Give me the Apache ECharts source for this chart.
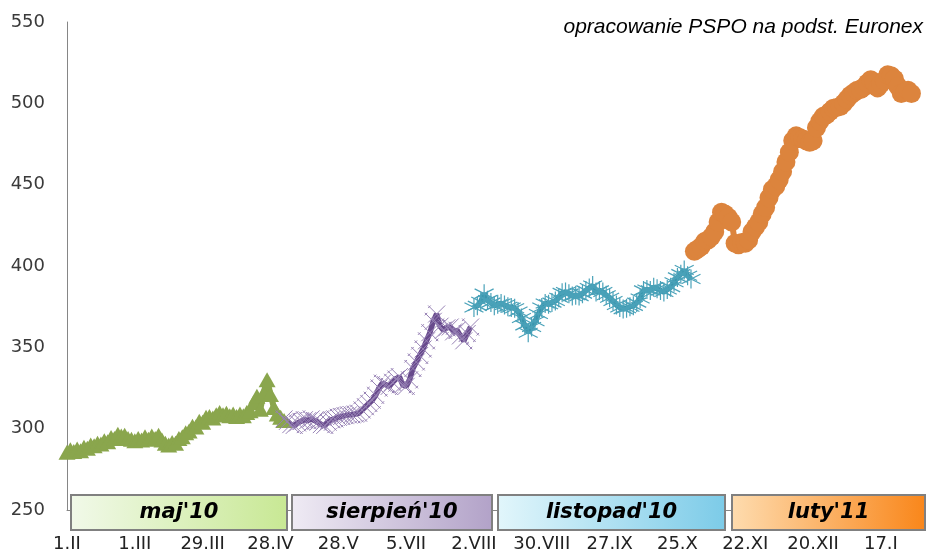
<!DOCTYPE html>
<html>
<head>
<meta charset="utf-8">
<script src="https://cdn.jsdelivr.net/npm/echarts@6/dist/echarts.min.js"></script>
<style>
  html, body { margin: 0; padding: 0; background: #ffffff; }
  #chart { width: 927px; height: 553px; }
</style>
</head>
<body>
<div id="chart"></div>
<script>
// ---- data ----
const tickLabels = ['1.II', '1.III', '29.III', '28.IV', '28.V', '5.VII', '2.VIII', '30.VIII', '27.IX', '25.X', '22.XI', '20.XII', '17.I'];
const categoryCount = 254;
const periodNames = ["maj'10", "sierpień'10", "listopad'10", "luty'11"];

const mayStart = 0;
const mayValues = [
  285.5, 287, 286, 287.5, 286.5, 288.5, 288, 290, 289.5, 291,
  290.5, 292.5, 292, 294.5, 294, 296.5, 295.5, 296, 294, 293.5,
  292.5, 294, 293, 295, 293.5, 295.5, 294, 296, 293, 291,
  290, 291.5, 291, 294, 295, 297.5, 298.5, 301.5, 301, 304.5,
  304, 307, 307.5, 306.5, 308.5, 310, 308.5, 309.5, 308, 309,
  307.5, 309, 308, 310, 311, 316, 320, 312, 322, 330,
  321, 313, 309, 307, 305
];

const augStart = 64;
const augValues = [
  306, 304.5, 302.5, 302, 303.5, 304.5, 305.5, 305, 306, 305,
  304, 302.5, 302, 304, 305.5, 306, 307, 307.5, 308, 308.5,
  308.5, 309, 309.5, 311.5, 313.5, 315.5, 317.5, 320.5, 325, 328,
  327, 326, 328.5, 330.5, 332, 327, 326, 330, 337, 341,
  345, 349, 354, 359, 366, 370.5, 363, 360.5, 362, 362.5,
  359.5, 360.5, 357, 354, 358.5, 362.5
];

const novStart = 120;
const novValues = [
  374.5, 375.5, 378, 383, 379, 377.5, 375.5, 376.5, 377, 376,
  375, 374.5, 374, 372, 368, 363.5, 359, 362.5, 366, 370.5,
  374.5, 377, 376.5, 377.5, 378.5, 380.5, 383.5, 384, 383, 381.5,
  382, 381.5, 383, 385, 386.5, 388, 384, 385, 384, 382,
  380.5, 378.5, 376, 374.5, 373.5, 374, 375, 375.5, 377.5, 380,
  385, 385.5, 385, 387, 386, 385, 384, 385.5, 387, 390,
  393, 395, 397.5, 394, 392
];

const febStart = 185;
const febValues = [
  409, 410.5, 412, 415, 416, 418, 421, 427, 433, 432,
  430, 427, 414, 413, 414.5, 414, 416, 421, 424, 427,
  432, 436, 442, 447, 449, 453, 458, 464, 470, 477,
  480, 479, 478, 477, 476, 477, 485, 489, 492, 493,
  495, 497, 497.5, 498, 500, 502.5, 505, 506.5, 508, 508.5,
  510, 512.5, 514.5, 513, 509.5, 512, 514, 517.5, 517, 515,
  510.5, 506, 507, 508, 506
];

// ---- build ----
const categories = [];
for (let i = 0; i < categoryCount; i++) categories.push(String(i));
function pairs(start, vals) { return vals.map((v, k) => [start + k, v]); }

const X_PATH = 'path://M0,0L10,10M10,0L0,10M1.5,0L0,1.5M10,8.5L8.5,10';
const STAR_PATH = 'path://M5,0L5,10M0.7,2.5L9.3,7.5M9.3,2.5L0.7,7.5';

const chart = echarts.init(document.getElementById('chart'), null, { renderer: 'canvas' });

const boxes = [
  { x: 71, w: 216, c0: '#f1f9e9', c1: '#c8e894' },
  { x: 292, w: 200, c0: '#efebf4', c1: '#b2a2c8' },
  { x: 498, w: 227, c0: '#e2f6fb', c1: '#7ccbe8' },
  { x: 732, w: 193, c0: '#fedcaf', c1: '#f9861a' }
];
const graphics = [];
boxes.forEach((b, k) => {
  graphics.push({
    type: 'rect', z: 100,
    shape: { x: b.x, y: 495, width: b.w, height: 35 },
    style: {
      fill: new echarts.graphic.LinearGradient(0, 0, 1, 0, [
        { offset: 0, color: b.c0 }, { offset: 1, color: b.c1 }
      ]),
      stroke: '#808080', lineWidth: 2
    }
  });
  graphics.push({
    type: 'text', z: 101,
    x: b.x + b.w / 2, y: 513,
    style: {
      text: periodNames[k],
      fill: '#000', align: 'center', verticalAlign: 'middle',
      font: 'italic bold 21px "DejaVu Sans"'
    }
  });
});

chart.setOption({
  animation: false,
  backgroundColor: '#ffffff',
  title: {
    text: 'opracowanie PSPO na podst. Euronex',
    right: 4, top: 17, padding: 0,
    textStyle: { fontFamily: 'Liberation Sans', fontStyle: 'italic', fontWeight: 'normal', fontSize: 21, color: '#000' }
  },
  grid: { left: 67, right: 2, top: 22, bottom: 41, containLabel: false },
  xAxis: {
    type: 'category',
    data: categories,
    boundaryGap: false,
    axisLine: { show: true, lineStyle: { color: '#868686', width: 1 } },
    axisTick: { show: false },
    splitLine: { show: false },
    axisLabel: {
      interval: 19,
      margin: 25,
      color: '#222',
      fontFamily: 'DejaVu Sans',
      fontSize: 18,
      formatter: (v, idx) => (idx % 20 === 0 ? tickLabels[idx / 20] : '')
    }
  },
  yAxis: {
    type: 'value',
    min: 250, max: 550, interval: 50,
    axisLine: { show: true, lineStyle: { color: '#868686', width: 1 } },
    axisTick: { show: false },
    splitLine: { show: false },
    axisLabel: { margin: 22, color: '#3a3a3a', fontFamily: 'DejaVu Sans', fontSize: 18 }
  },
  series: [
    {
      type: 'line', data: pairs(mayStart, mayValues),
      symbol: 'triangle', symbolSize: [17, 15], showAllSymbol: true,
      itemStyle: { color: '#8aa64d' },
      lineStyle: { color: '#8aa64d', width: 6 }
    },
    {
      type: 'line', data: pairs(augStart, augValues),
      symbol: X_PATH, symbolSize: 17, showAllSymbol: true,
      itemStyle: { color: 'rgba(0,0,0,0)', borderColor: '#9782b5', borderWidth: 1 },
      lineStyle: { color: '#684a8c', width: 5.5 }
    },
    {
      type: 'line', data: pairs(novStart, novValues),
      symbol: STAR_PATH, symbolSize: 19, showAllSymbol: true,
      itemStyle: { color: 'rgba(0,0,0,0)', borderColor: '#4aa2b9', borderWidth: 1.2 },
      lineStyle: { color: '#3a95ad', width: 5.5 }
    },
    {
      type: 'line', data: pairs(febStart, febValues),
      symbol: 'circle', symbolSize: 19, showAllSymbol: true,
      itemStyle: { color: '#dc843d' },
      lineStyle: { color: '#dc843d', width: 6 }
    }
  ],
  graphic: graphics
});
</script>
</body>
</html>
